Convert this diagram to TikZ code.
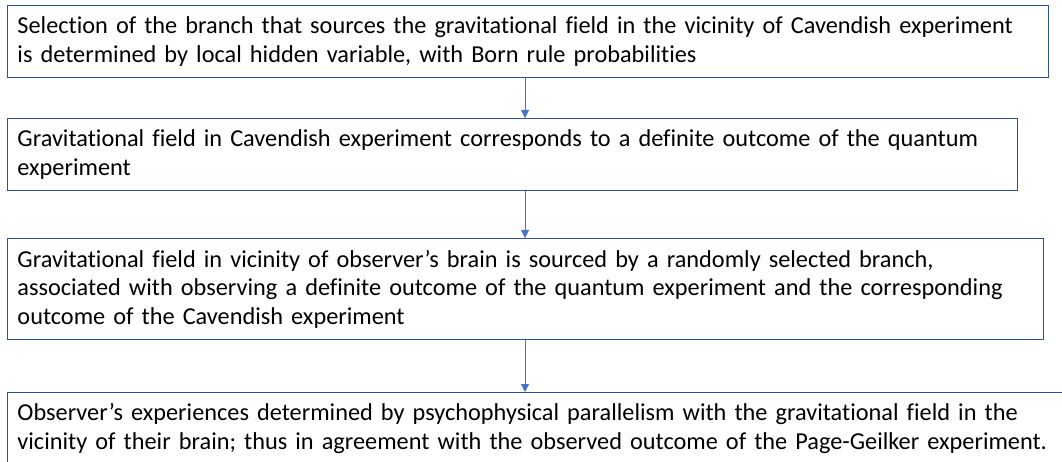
\documentclass[tikz,border=0pt]{standalone}
\usepackage{fontspec}
\setmainfont{Carlito}[Ligatures=NoCommon]
\usetikzlibrary{arrows.meta}

\definecolor{boxline}{HTML}{2F528F}
\definecolor{arrowblue}{HTML}{4472C4}

\tikzset{
    stagebox/.style={draw=boxline, line width=0.9pt, fill=white, anchor=north west,
        align=left, inner xsep=10pt, inner ysep=0pt,
        font=\fontsize{24.3}{28.5}\selectfont},
    flowarrow/.style={draw=arrowblue, line width=0.9pt, -{Triangle[length=8pt,width=8pt]}}
}

\begin{document}
\begin{tikzpicture}[x=1pt, y=-1pt]
    \useasboundingbox (0,0) rectangle (1062,462);

    % Boxes, top to bottom
    \node[stagebox, minimum width=1041pt, minimum height=72pt, text width=1021pt] (select) at (7,5)
        {Selection of the branch that sources the gravitational field in the vicinity of Cavendish experiment\\
         is determined by local hidden variable, with Born rule probabilities};
    \node[stagebox, minimum width=1010pt, minimum height=72pt, text width=990pt] (field) at (7,118)
        {Gravitational field in Cavendish experiment corresponds to a definite outcome of the quantum\\
         experiment};
    \node[stagebox, minimum width=1036pt, minimum height=101pt, text width=1016pt] (brain) at (7,238)
        {Gravitational field in vicinity of observer’s brain is sourced by a randomly selected branch,\\
         associated with observing a definite outcome of the quantum experiment and the corresponding\\
         outcome of the Cavendish experiment};
    \node[stagebox, minimum width=1070pt, minimum height=72pt, text width=1050pt] (observer) at (7,392)
        {Observer’s experiences determined by psychophysical parallelism with the gravitational field in the\\
         vicinity of their brain; thus in agreement with the observed outcome of the Page-Geilker experiment.};

    % Arrows along one vertical line
    \coordinate (axis) at (525,0);
    \draw[flowarrow] (select.south -| axis) -- (field.north -| axis);
    \draw[flowarrow] (field.south -| axis) -- (brain.north -| axis);
    \draw[flowarrow] (brain.south -| axis) -- (observer.north -| axis);
\end{tikzpicture}
\end{document}
